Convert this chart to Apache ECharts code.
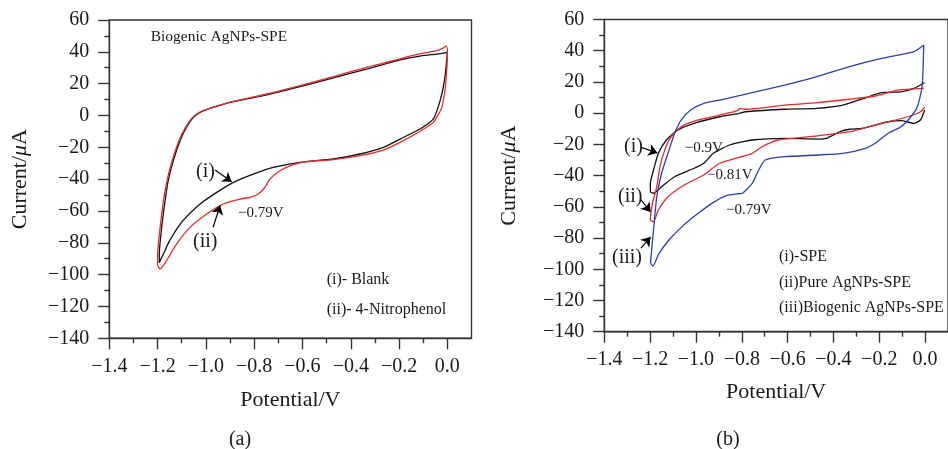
<!DOCTYPE html>
<html>
<head>
<meta charset="utf-8">
<script src="https://cdn.jsdelivr.net/npm/echarts@6/dist/echarts.min.js"></script>
<style>
  html, body { margin: 0; padding: 0; background: #fff; }
  #chart { width: 948px; height: 449px; }
</style>
</head>
<body>
<div id="chart"></div>
<script>
// tick values shared by both panels
const xMajorTicks = [-1.4, -1.2, -1.0, -0.8, -0.6, -0.4, -0.2, 0.0]
const xMinorTicks = [-1.3, -1.1, -0.9, -0.7, -0.5, -0.3, -0.1]

// panel (a): Biogenic AgNPs-SPE, [potential V, current uA]
const blankA = [
  [0.0, 39.7], [-0.044, 38.6], [-0.12, 37.2], [-0.196, 34.9], [-0.26, 32.3], [-0.334, 29.2],
  [-0.472, 23.6], [-0.61, 18.1], [-0.748, 12.9], [-0.886, 8.7], [-0.97, 5.1], [-1.024, 2.0],
  [-1.052, -1.2], [-1.08, -7.4], [-1.107, -15.8], [-1.135, -28.4], [-1.156, -41], [-1.169, -53.5],
  [-1.183, -70.3], [-1.193, -87], [-1.193, -92.5],
  [-1.176, -87], [-1.15, -78.6], [-1.1, -67], [-1.024, -55.6], [-0.955, -48.3], [-0.886, -42],
  [-0.804, -36.8], [-0.721, -32.6], [-0.61, -29.4], [-0.472, -27.3], [-0.362, -24.2], [-0.265, -20],
  [-0.196, -14.8], [-0.113, -8.5], [-0.058, -2.2], [-0.03, 9.3], [-0.012, 21.9], [-0.003, 34.4], [0.0, 39.7]
]
const nitroA = [
  [0.0, 42], [-0.005, 43.6], [-0.02, 42.2], [-0.044, 40.7], [-0.12, 38.5], [-0.196, 35.6], [-0.26, 33.0],
  [-0.334, 30.3], [-0.472, 24.4], [-0.61, 18.8], [-0.748, 13.5], [-0.886, 8.9], [-0.97, 5.3], [-1.024, 2.2],
  [-1.055, -1.2], [-1.085, -7.6], [-1.112, -16], [-1.14, -28.6], [-1.162, -41.5], [-1.176, -54],
  [-1.19, -71], [-1.2, -88], [-1.2, -94], [-1.19, -96.5],
  [-1.163, -91.2], [-1.121, -80.7], [-1.066, -70.3], [-0.997, -61.9], [-0.928, -55.6], [-0.859, -52.5],
  [-0.817, -51.4], [-0.783, -49.3], [-0.755, -45.1], [-0.735, -39.9], [-0.693, -34.7], [-0.638, -30.9],
  [-0.583, -29], [-0.472, -27.7], [-0.362, -25.2], [-0.265, -21.7], [-0.196, -16.9], [-0.113, -9.9],
  [-0.058, -4.3], [-0.023, 5.1], [-0.007, 19.8], [0.0, 38.6], [0.0, 42]
]

// panel (b): three electrodes
const speB = [
  [-0.002, 19.5], [-0.049, 15.9], [-0.105, 13.7], [-0.19, 13.1], [-0.246, 10.5], [-0.359, 5.2],
  [-0.472, 3.1], [-0.613, 2.5], [-0.783, 0.9], [-0.811, -0.1], [-0.896, -2.3], [-1.008, -6.5],
  [-1.079, -10.8], [-1.129, -17.2], [-1.164, -25.7], [-1.185, -36.4], [-1.199, -44.9], [-1.199, -50.3],
  [-1.185, -51.3],
  [-1.15, -47.1], [-1.093, -40.7], [-1.008, -35.3], [-0.966, -32.1], [-0.924, -25.7], [-0.853, -20.4],
  [-0.754, -17.2], [-0.613, -16.1], [-0.472, -16.6], [-0.43, -16.1], [-0.373, -11.9], [-0.33, -10.3],
  [-0.275, -9.7], [-0.218, -7.6], [-0.161, -5.5], [-0.105, -4.8], [-0.049, -6.5], [-0.02, -4.4], [-0.002, 2]
]
const pureB = [
  [-0.006, 15.9], [-0.119, 14.8], [-0.218, 11], [-0.33, 8.9], [-0.472, 6.7], [-0.613, 5.2],
  [-0.783, 2.5], [-0.808, 3.1], [-0.818, 1.6], [-0.896, -1.2], [-0.994, -4.4], [-1.065, -8.7],
  [-1.108, -15.1], [-1.136, -23.6], [-1.157, -34.3], [-1.171, -47.1], [-1.19, -58], [-1.199, -68.4],
  [-1.185, -69.5],
  [-1.164, -62], [-1.122, -53.5], [-1.051, -46], [-0.966, -39.6], [-0.896, -32.1], [-0.754, -25.7],
  [-0.712, -21.5], [-0.642, -17.2], [-0.472, -14.6], [-0.33, -11.9], [-0.19, -6.5], [-0.076, -2.3],
  [-0.02, 0.9], [-0.002, 3.8]
]
const bioB = [
  [-0.006, 43.7], [-0.048, 39.4], [-0.19, 35.1], [-0.33, 29.8], [-0.472, 23.4], [-0.613, 18],
  [-0.754, 13.1], [-0.896, 8.4], [-0.966, 6.3], [-1.023, 2], [-1.065, -4.4], [-1.093, -12.9],
  [-1.122, -25.7], [-1.15, -38.5], [-1.171, -53.5], [-1.184, -73], [-1.195, -90.2], [-1.198, -95.5],
  [-1.188, -98],
  [-1.162, -90.2], [-1.12, -81.6], [-1.063, -73], [-0.993, -64.5], [-0.922, -57], [-0.865, -52.7],
  [-0.823, -51.7], [-0.797, -51.3], [-0.754, -44.9], [-0.726, -36.4], [-0.698, -30], [-0.613, -27.9],
  [-0.472, -26.8], [-0.359, -25.7], [-0.26, -22.5], [-0.218, -19.3], [-0.161, -12.9], [-0.105, -8.7],
  [-0.062, -2.3], [-0.034, 4.1], [-0.013, 17], [-0.006, 43.7]
]

const serif = '"Liberation Serif", "Times New Roman", serif'
const axisColor = '#333'
const textColor = '#1a1a1a'
const minus = v => String(v).replace('-', '\u2212')

function xAxes(grid, nameGap) {
  return [
    {
      type: 'value', gridIndex: grid, min: -1.4, max: 0.1, interval: 0.2,
      name: 'Potential/V', nameLocation: 'middle', nameGap: nameGap,
      nameTextStyle: { fontFamily: serif, fontSize: 22, color: textColor },
      axisLine: { onZero: false, lineStyle: { color: axisColor, width: 1.4 } },
      axisTick: { length: 11, customValues: xMajorTicks, lineStyle: { color: axisColor, width: 1.4 } },
      axisLabel: {
        customValues: xMajorTicks, margin: 18, fontFamily: serif, fontSize: 20, color: textColor,
        formatter: v => minus(v.toFixed(1))
      },
      splitLine: { show: false }
    },
    {
      type: 'value', gridIndex: grid, min: -1.4, max: 0.1, position: 'bottom',
      axisLine: { show: false, onZero: false },
      axisTick: { length: 5, customValues: xMinorTicks, lineStyle: { color: axisColor, width: 1.4 } },
      axisLabel: { show: false },
      splitLine: { show: false }
    }
  ]
}

function yAxis(grid, nameGap) {
  return {
    type: 'value', gridIndex: grid, min: -140, max: 60, interval: 20,
    name: '{n|Current/}{i|\u03bc}{n|A}', nameLocation: 'middle', nameGap: nameGap,
    nameTextStyle: {
      rich: {
        n: { fontFamily: serif, fontSize: 22, color: textColor },
        i: { fontFamily: serif, fontSize: 22, color: textColor, fontStyle: 'italic' }
      }
    },
    axisLine: { onZero: false, lineStyle: { color: axisColor, width: 1.4 } },
    axisTick: { length: 11, lineStyle: { color: axisColor, width: 1.4 } },
    minorTick: { show: true, splitNumber: 2, length: 5, lineStyle: { color: axisColor, width: 1.4 } },
    axisLabel: { margin: 20, fontFamily: serif, fontSize: 20, color: textColor, formatter: v => minus(v) },
    splitLine: { show: false },
    minorSplitLine: { show: false }
  }
}

function curve(name, data, color, xi, yi, arrow) {
  const s = {
    name: name, type: 'line', data: data, xAxisIndex: xi, yAxisIndex: yi,
    showSymbol: false, smooth: 0.2, clip: false,
    lineStyle: { color: color, width: 1.3 }
  }
  if (arrow) {
    s.markLine = {
      silent: true, symbol: ['none', 'arrow'], symbolSize: 9,
      label: { show: false },
      lineStyle: { color: '#000', width: 1.2, type: 'solid' },
      data: [[{ coord: arrow[0] }, { coord: arrow[1] }]]
    }
  }
  return s
}

function txt(x, y, text, size, align) {
  return {
    type: 'text', x: x, y: y, silent: true,
    style: { text: text, font: size + 'px ' + serif, fill: textColor, align: align || 'left', verticalAlign: 'middle' }
  }
}

const chart = echarts.init(document.getElementById('chart'))
chart.setOption({
  animation: false,
  backgroundColor: '#fff',
  grid: [
    { left: 109.3, top: 20, width: 362.2, height: 318.3, show: true, borderColor: axisColor, borderWidth: 1.4, backgroundColor: 'transparent' },
    { left: 604.3, top: 19.5, width: 354, height: 312.2, show: true, borderColor: axisColor, borderWidth: 1.4, backgroundColor: 'transparent' }
  ],
  xAxis: [...xAxes(0, 51), ...xAxes(1, 50)],
  yAxis: [yAxis(0, 78), yAxis(1, 84)],
  series: [
    curve('(i)- Blank', blankA, '#111', 0, 0, [[-0.962, -34.3], [-0.893, -41.7]]),
    curve('(ii)- 4-Nitrophenol', nitroA, '#e52b2b', 0, 0, [[-0.970, -70.2], [-0.941, -56.4]]),
    curve('(i)-SPE', speB, '#111', 2, 1, [[-1.235, -22.1], [-1.168, -25.5]]),
    curve('(ii)Pure AgNPs-SPE', pureB, '#e52b2b', 2, 1, [[-1.240, -55.6], [-1.198, -63.3]]),
    curve('(iii)Biogenic AgNPs-SPE', bioB, '#2b40b0', 2, 1, [[-1.240, -86.4], [-1.198, -79.3]])
  ],
  graphic: [
    txt(150.7, 37, 'Biogenic AgNPs-SPE', 15.5),
    txt(196, 172, '(i)', 20),
    txt(193, 242, '(ii)', 20),
    txt(238, 213, '\u22120.79V', 15),
    txt(326.7, 280, '(i)- Blank', 16),
    txt(326.7, 310, '(ii)- 4-Nitrophenol', 16),
    txt(240, 440, '(a)', 20, 'center'),
    txt(624, 147, '(i)', 20),
    txt(684.7, 148, '\u22120.9V', 15),
    txt(618, 197, '(ii)', 20),
    txt(707, 175, '\u22120.81V', 15),
    txt(612, 258, '(iii)', 20),
    txt(726, 210, '\u22120.79V', 15),
    txt(779, 257, '(i)-SPE', 16),
    txt(779, 283, '(ii)Pure AgNPs-SPE', 16),
    txt(779, 308, '(iii)Biogenic AgNPs-SPE', 16),
    txt(728, 440, '(b)', 20, 'center')
  ]
})
</script>
</body>
</html>
